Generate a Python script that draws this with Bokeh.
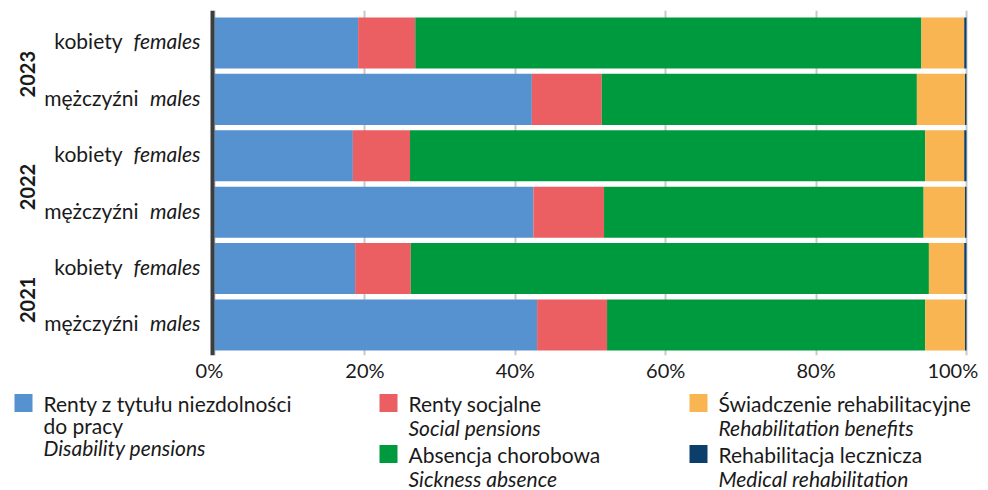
import math
from bokeh.plotting import figure
from bokeh.models import ColumnDataSource, Range1d, FixedTicker, PrintfTickFormatter, Span
from bokeh.layouts import column
from bokeh.embed import file_html
from bokeh.resources import INLINE
from bokeh.core.properties import value

# ---------------- data ----------------
row_year = ["2023", "2023", "2022", "2022", "2021", "2021"]
row_sex_pl = ["kobiety", "mężczyźni", "kobiety", "mężczyźni", "kobiety", "mężczyźni"]
row_sex_en = ["females", "males", "females", "males", "females", "males"]

disability = [19.1, 42.2, 18.4, 42.4, 18.7, 42.9]
social = [7.6, 9.3, 7.6, 9.4, 7.4, 9.3]
sickness = [67.3, 41.9, 68.5, 42.5, 68.9, 42.3]
rehab_benefit = [5.7, 6.4, 5.2, 5.5, 4.7, 5.3]
medical = [0.3, 0.2, 0.3, 0.2, 0.3, 0.2]

series_keys = ["disability", "social", "sickness", "rehab_benefit", "medical"]
series_pl = ["Renty z tytułu niezdolności\ndo pracy", "Renty socjalne", "Absencja chorobowa",
             "Świadczenie rehabilitacyjne", "Rehabilitacja lecznicza"]
series_en = ["Disability pensions", "Social pensions", "Sickness absence",
             "Rehabilitation benefits", "Medical rehabilitation"]
colors = ["#5592cf", "#eb5e61", "#009a3e", "#f8b551", "#0c3e6c"]

x_ticks = [0, 20, 40, 60, 80, 100]

# ---------------- style / layout ----------------
FONT = "Lato"
TXT = "#1a1a1a"
FS_TICK = "20px"
FS_LAB = "21px"
FS_LEG = "21px"
sex_offset = {"kobiety": -92, "mężczyźni": -76}
NB = "\u00a0"

W = 988
H_MAIN = 387
H_LEG = 103
PX_ZERO = 214.0      # pixel of 0 % inside the figure
PX_HUNDRED = 966.0   # pixel of 100 %
ppu = (PX_HUNDRED - PX_ZERO) / 100.0

n = len(row_year)
ypos = [n - 1 - i for i in range(n)]

src = ColumnDataSource(dict(
    y=ypos, year=row_year, sex_pl=row_sex_pl, sex_en=row_sex_en,
    off_pl=[sex_offset[s] for s in row_sex_pl],
    zero=[0] * n,
    disability=disability, social=social, sickness=sickness,
    rehab_benefit=rehab_benefit, medical=medical,
))

years = []
for yv in row_year:
    if yv not in years:
        years.append(yv)
year_y = [sum(y for y, yy in zip(ypos, row_year) if yy == yv) / row_year.count(yv) for yv in years]
ysrc = ColumnDataSource(dict(y=year_y, text=years, zero=[0] * len(years)))

p = figure(width=W, height=H_MAIN,
           x_range=Range1d(-PX_ZERO / ppu, 100 + (W - PX_HUNDRED) / ppu),
           y_range=Range1d(-0.541, 5.576),
           y_axis_type=None,
           toolbar_location=None, output_backend="svg",
           min_border_left=0, min_border_right=0, min_border_top=10, min_border_bottom=32)
p.outline_line_color = None
p.background_fill_color = "white"
p.border_fill_color = "white"

p.hbar_stack(series_keys, y="y", height=0.905, color=colors, source=src, line_width=0, line_color=None)

p.xgrid.ticker = FixedTicker(ticks=x_ticks)
p.xgrid.grid_line_color = "#c8c8c8"
p.xgrid.grid_line_width = 2
p.ygrid.grid_line_color = None

p.xaxis.ticker = FixedTicker(ticks=x_ticks)
p.xaxis.formatter = PrintfTickFormatter(format="%d%%")
p.xaxis.major_label_overrides = {x_ticks[0]: f"{x_ticks[0]}%" + NB * 2,
                                 x_ticks[-1]: f"{x_ticks[-1]}%" + NB * 2}
p.xaxis.axis_line_color = None
p.xaxis.major_tick_line_color = None
p.xaxis.minor_tick_line_color = None
p.xaxis.major_label_standoff = -4
p.xaxis.major_label_text_font = FONT
p.xaxis.major_label_text_font_size = FS_TICK
p.xaxis.major_label_text_color = TXT

# vertical axis line at the 0 % edge
p.add_layout(Span(location=-2.0 / ppu, dimension="height", line_color="#3b3e41", line_width=4))

# category labels
p.text(x="zero", y="y", text="sex_en", source=src, x_offset=-14, y_offset=-2,
       text_align="right", text_baseline="middle", text_font=value(FONT),
       text_font_style="italic", text_font_size=FS_LAB, text_color=TXT)
p.text(x="zero", y="y", text="sex_pl", source=src, x_offset="off_pl", y_offset=-2,
       text_align="right", text_baseline="middle", text_font=value(FONT),
       text_font_size=FS_LAB, text_color=TXT)
p.text(x="zero", y="y", text="text", source=ysrc, x_offset=-187, y_offset=3, angle=math.pi / 2,
       text_align="center", text_baseline="middle", text_font=value(FONT),
       text_font_style="bold", text_font_size="20px", text_color=TXT)

# ---------------- legend ----------------
lg = figure(width=W, height=H_LEG, x_range=Range1d(0, W), y_range=Range1d(H_LEG, 0),
            x_axis_type=None, y_axis_type=None, toolbar_location=None, output_backend="svg",
            min_border_left=0, min_border_right=0, min_border_top=0, min_border_bottom=0)
lg.outline_line_color = None
lg.xgrid.grid_line_color = None
lg.ygrid.grid_line_color = None

col_x = [14, 379, 689]
row_mid = [15.5, 66.5]
slots = [(0, 0), (1, 0), (1, 1), (2, 0), (2, 1)]
sq = 18
line_h = [22, 24, 24]

sqx, sqy, sqc = [], [], []
tx, ty, tt, tst = [], [], [], []
for i, (c, r) in enumerate(slots):
    x0 = col_x[c]
    mid = row_mid[r]
    sqx.append(x0 + sq / 2)
    sqy.append(mid)
    sqc.append(colors[i])
    lines = series_pl[i].split("\n") + [series_en[i]]
    styles = ["normal"] * (len(lines) - 1) + ["italic"]
    for k, (ln, st) in enumerate(zip(lines, styles)):
        tx.append(x0 + 29)
        ty.append(mid + k * line_h[c])
        tt.append(ln)
        tst.append(st)

lg.rect(x=sqx, y=sqy, width=sq, height=sq, color=sqc, line_width=0)
lg.text(x="x", y="y", text="t", text_font_style="st",
        source=ColumnDataSource(dict(x=tx, y=ty, t=tt, st=tst)),
        text_font=value(FONT), text_font_size=FS_LEG, text_color=TXT,
        text_align="left", text_baseline="middle")

layout = column(p, lg)
open("out.html", "w").write(file_html(layout, INLINE))
